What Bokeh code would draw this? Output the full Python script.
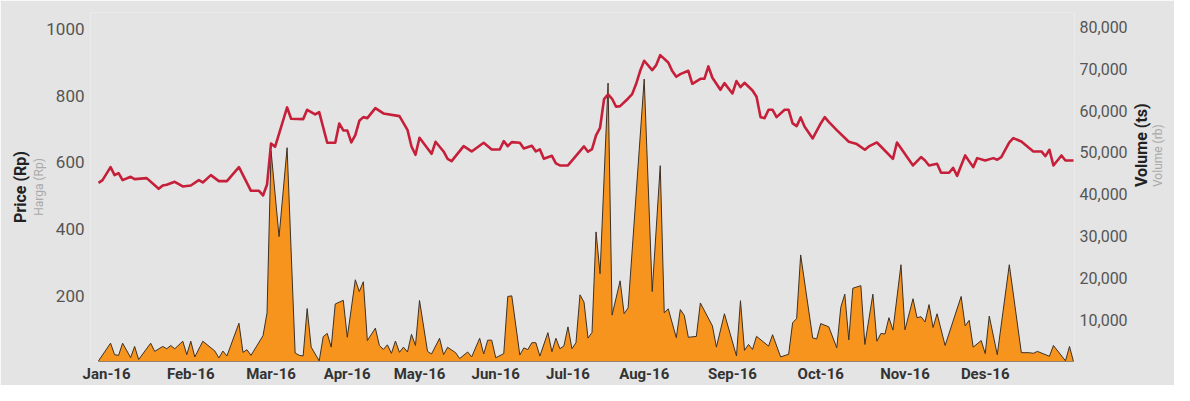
import math
from bokeh.plotting import figure
from bokeh.models import Range1d, LinearAxis, FixedTicker, NumeralTickFormatter
from bokeh.embed import file_html
from bokeh.resources import INLINE

# ---- data (trading-day index, 2016) ----
price_day = [0, 1, 3, 4, 5, 6, 8, 9, 12, 15, 16, 17, 19, 21, 23, 25, 26, 28, 30, 32, 35, 38, 40, 41, 42,
             43, 44, 47, 48, 51, 52, 54, 55, 57, 59, 60, 61, 62, 63, 64, 65, 66, 67, 69, 71, 75, 77, 78,
             79, 80, 83, 84, 86, 87, 88, 91, 93, 96, 98, 100, 101, 102, 103, 105, 106, 108, 109, 110,
             111, 113, 114, 115, 117, 121, 122, 123, 124, 125, 126, 127, 128, 129, 130, 132, 133, 134,
             135, 136, 138, 139, 140, 142, 143, 144, 145, 147, 148, 150, 151, 152, 153, 155, 156, 158,
             159, 160, 161, 163, 164, 165, 166, 167, 168, 169, 171, 172, 173, 174, 175, 176, 178, 180,
             181, 182, 184, 187, 189, 191, 192, 194, 195, 198, 199, 203, 205, 206, 207, 209, 210, 212,
             213, 214, 215, 216, 218, 219, 221, 223, 224, 225, 227, 228, 230, 233, 235, 236, 237, 238,
             240, 241, 243]
price = [539, 547, 586, 562, 568, 547, 557, 550, 553, 521, 531, 533, 542, 528, 531, 547, 540, 562, 544,
         544, 586, 515, 515, 501, 534, 657, 647, 765, 731, 730, 758, 744, 751, 659, 659, 717, 696, 696,
         660, 682, 725, 736, 733, 763, 747, 739, 698, 648, 623, 674, 626, 662, 633, 611, 604, 649, 633,
         659, 639, 639, 664, 649, 661, 659, 642, 650, 633, 639, 611, 620, 597, 591, 591, 648, 632, 640,
         681, 704, 790, 804, 791, 767, 769, 792, 805, 836, 875, 905, 877, 892, 922, 900, 874, 857, 865,
         875, 836, 851, 851, 888, 854, 818, 838, 807, 844, 826, 839, 816, 797, 736, 733, 758, 758, 736,
         758, 758, 717, 709, 735, 707, 672, 717, 736, 722, 697, 662, 655, 638, 648, 660, 648, 611, 660,
         591, 616, 606, 591, 596, 569, 569, 584, 560, 591, 621, 586, 613, 606, 613, 608, 616, 660, 673,
         663, 633, 633, 619, 638, 591, 621, 606, 606]

vol_day = [0, 3, 4, 5, 6, 8, 9, 10, 13, 14, 16, 17, 18, 19, 21, 22, 23, 24, 26, 29, 30, 31, 32, 35, 36,
           37, 38, 41, 42, 43, 45, 47, 49, 50, 51, 52, 53, 55, 56, 57, 58, 59, 61, 62, 64, 65, 66, 67,
           69, 70, 71, 72, 73, 74, 75, 76, 77, 78, 79, 80, 82, 83, 85, 86, 87, 89, 90, 92, 93, 95, 96,
           97, 98, 99, 101, 102, 103, 105, 106, 107, 108, 109, 110, 112, 113, 114, 115, 116, 117, 118,
           119, 120, 121, 122, 123, 124, 125, 127, 128, 130, 131, 132, 136, 138, 140, 141, 142, 144,
           145, 146, 147, 149, 150, 153, 154, 156, 159, 160, 161, 162, 163, 164, 167, 168, 170, 172,
           173, 174, 175, 178, 179, 180, 182, 184, 185, 186, 187, 188, 190, 191, 193, 194, 195, 196,
           197, 198, 200, 201, 203, 204, 205, 206, 207, 208, 209, 211, 215, 216, 217, 218, 220, 221,
           222, 224, 227, 230, 232, 233, 234, 237, 238, 241, 242, 243]
volume = [150, 4380, 1640, 1470, 4380, 940, 3600, 470, 4380, 2420, 3600, 3050, 3830, 3050, 4850, 1640,
          4850, 1100, 4850, 2500, 860, 2500, 1330, 9150, 2190, 2815, 1470, 6180, 11650, 50400, 29870,
          51140, 2030, 1490, 1330, 12670, 3440, 150, 5940, 6720, 3440, 13760, 14630, 5800, 19550, 16740,
          19080, 5000, 7980, 3830, 2900, 3990, 1950, 4900, 2200, 3440, 2270, 6500, 3830, 14600, 2420,
          1800, 5550, 1640, 3400, 2110, 700, 2270, 1100, 5550, 1800, 5100, 5100, 900, 1880, 15560,
          15700, 1560, 3250, 2850, 4500, 4500, 1300, 6900, 2350, 5550, 3050, 3750, 8290, 3050, 4500,
          15950, 14200, 5600, 6960, 31000, 21000, 66600, 11100, 19300, 11420, 12830, 67560, 16730,
          46840, 11650, 12600, 5700, 12430, 11030, 5790, 6000, 14000, 8520, 3440, 11420, 1330, 14550,
          2660, 4070, 2890, 6020, 3680, 6410, 1100, 1720, 9310, 10250, 25490, 5630, 5400, 9070, 8290,
          3280, 12980, 16110, 5160, 17520, 18140, 4070, 16110, 4850, 6720, 6570, 10480, 7510, 23150,
          7590, 15010, 10480, 10710, 9460, 13610, 8130, 11420, 3830, 15560, 8520, 9850, 3440, 5000,
          1880, 10870, 1640, 23150, 2110, 2110, 1960, 2420, 1250, 3830, 160, 3600, 0]

month_day = [2, 23, 43, 62, 80, 99, 117, 136, 158, 180, 201, 221]
month_labels = ["Jan-16", "Feb-16", "Mar-16", "Apr-16", "May-16", "Jun-16",
                "Jul-16", "Aug-16", "Sep-16", "Oct-16", "Nov-16", "Des-16"]
price_ticks = [200, 400, 600, 800, 1000]
volume_ticks = [10000, 20000, 30000, 40000, 50000, 60000, 70000, 80000]

# ---- style ----
BG = "#e4e4e4"
FONT = "Roboto"
PRICE_COLOR = "#c61f3a"
AREA_COLOR = "#f7941d"
AREA_LINE = "#3d3025"
TICK_COLOR = "#555555"
TITLE_COLOR = "#222222"
SUB_COLOR = "#aaaaaa"

p = figure(width=1174, height=385, output_backend="svg", toolbar_location=None,
           x_range=Range1d(-2.0, 243.25), y_range=Range1d(2.97, 1049.8),
           min_border_left=90, min_border_right=100, min_border_top=12, min_border_bottom=21)
p.background_fill_color = BG
p.border_fill_color = BG
p.outline_line_color = None
p.grid.visible = False

p.extra_y_ranges = {"vol": Range1d(0, 83486)}

# volume area (patch closed down to zero)
xs = vol_day + [vol_day[-1], vol_day[0]]
ys = volume + [0, 0]
p.patch(xs, ys, y_range_name="vol", fill_color=AREA_COLOR, line_color=AREA_LINE, line_width=1)

# price line
p.line(price_day, price, line_color=PRICE_COLOR, line_width=2.6, line_join="round")

def clean(ax):
    ax.axis_line_color = None
    ax.major_tick_line_color = None
    ax.minor_tick_line_color = None
    ax.major_tick_out = 0
    ax.major_tick_in = 0
    ax.minor_tick_out = 0
    ax.minor_tick_in = 0

def set_standoff(ax, v, fallback=0):
    try:
        ax.axis_label_standoff = v
    except Exception:
        ax.axis_label_standoff = fallback

# x axis
xa = p.xaxis[0]
xa.ticker = FixedTicker(ticks=month_day)
xa.major_label_overrides = {d: l for d, l in zip(month_day, month_labels)}
xa.major_label_text_font = FONT
xa.major_label_text_font_style = "bold"
xa.major_label_text_font_size = "15px"
xa.major_label_text_color = "#333333"
xa.major_label_standoff = 3
clean(xa)

# left axis (price) with sub-title
ya = p.yaxis[0]
ya.ticker = FixedTicker(ticks=price_ticks)
ya.major_label_text_font = FONT
ya.major_label_text_font_size = "17px"
ya.major_label_text_color = TICK_COLOR
ya.major_label_standoff = 6
ya.axis_label = "Harga (Rp)"
ya.axis_label_text_font = FONT
ya.axis_label_text_font_style = "normal"
ya.axis_label_text_font_size = "12px"
ya.axis_label_text_color = SUB_COLOR
set_standoff(ya, -3)
clean(ya)

# outer left title
ya2 = LinearAxis(ticker=FixedTicker(ticks=[]), axis_label="Price (Rp)")
ya2.axis_label_text_font = FONT
ya2.axis_label_text_font_style = "bold"
ya2.axis_label_text_font_size = "16px"
ya2.axis_label_text_color = TITLE_COLOR
ya2.axis_label_standoff = 0
ya2.major_label_standoff = 0
clean(ya2)
p.add_layout(ya2, "left")

# right axis (volume) with title
yr = LinearAxis(y_range_name="vol", ticker=FixedTicker(ticks=volume_ticks),
                formatter=NumeralTickFormatter(format="0,0"))
yr.major_label_text_font = FONT
yr.major_label_text_font_size = "16px"
yr.major_label_text_color = TICK_COLOR
yr.major_label_standoff = 5
yr.axis_label = "Volume (ts)"
yr.axis_label_text_font = FONT
yr.axis_label_text_font_style = "bold"
yr.axis_label_text_font_size = "16px"
yr.axis_label_text_color = TITLE_COLOR
set_standoff(yr, 11)
clean(yr)
p.add_layout(yr, "right")

# outer right sub-title
yr2 = LinearAxis(y_range_name="vol", ticker=FixedTicker(ticks=[]), axis_label="Volume (rb)")
yr2.axis_label_text_font = FONT
yr2.axis_label_text_font_style = "normal"
yr2.axis_label_text_font_size = "12px"
yr2.axis_label_text_color = SUB_COLOR
set_standoff(yr2, -6)
yr2.major_label_standoff = 0
clean(yr2)
p.add_layout(yr2, "right")

# right-side titles read bottom-to-top like the left ones
for ax in (yr, yr2):
    try:
        ax.axis_label_orientation = math.pi / 2
        ax.axis_label_text_align = "center"
        ax.axis_label_text_baseline = "middle"
    except Exception:
        pass

open("out.html", "w").write(file_html(p, INLINE))
